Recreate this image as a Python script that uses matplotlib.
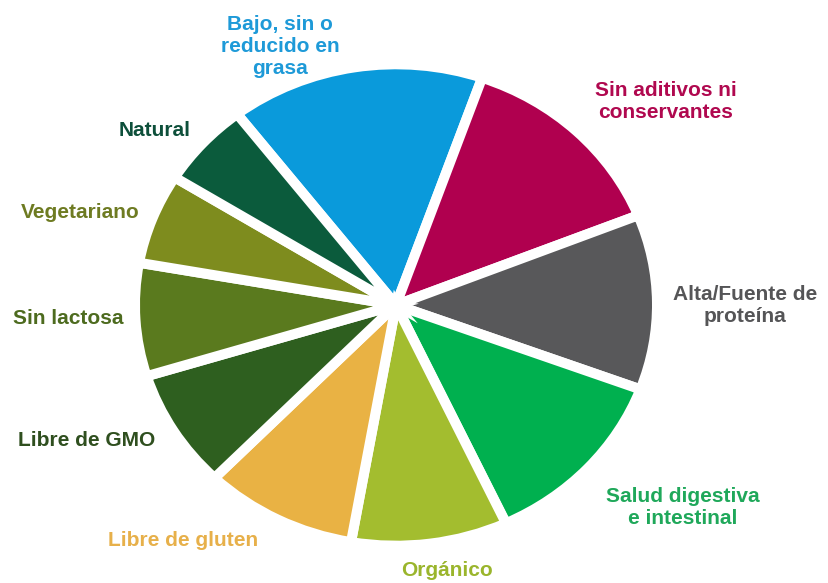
import matplotlib
matplotlib.use('Agg')
import matplotlib.pyplot as plt

# Share of claims (%)
labels = ['Bajo, sin o\nreducido en\ngrasa', 'Sin aditivos ni\nconservantes', 'Alta/Fuente de\nproteína',
          'Salud digestiva\ne intestinal', 'Orgánico', 'Libre de gluten', 'Libre de GMO',
          'Sin lactosa', 'Vegetariano', 'Natural']
shares = [15.8, 13.6, 11.8, 12.4, 9.7, 9.5, 8.0, 7.6, 6.1, 5.7]
colors = ['#0A9ADB', '#B0004F', '#58585A', '#00B04F', '#A3BD2F', '#E9B244',
          '#2E5F1F', '#5A7A1E', '#7E8C1E', '#0B5B3C']
text_colors = ['#1E9AD8', '#B0084F', '#555557', '#1FA85A', '#9AB52C', '#E7B04A',
               '#2F4F1F', '#4D6B1F', '#6E7B22', '#0D4F3A']
# label anchor points in pixels (x from left, y from top)
label_xy = [(280, 47), (666, 101), (745, 306), (683, 507), (447, 570),
            (183, 541), (87, 440), (68, 318), (80, 212), (155, 130)]

W, H = 829, 583
fig = plt.figure(figsize=(W / 100, H / 100), dpi=100)
ax = fig.add_axes([0, 0, 1, 1])

# pie is a bit flatter than wide
rx, ry = 257, 237
squash = rx / ry
cx, cy = 396, 305
gap = 7.2

ax.pie(shares, colors=colors, startangle=127.5, counterclock=False,
       radius=rx + 4, center=(cx, (H - cy) * squash),
       wedgeprops=dict(edgecolor='white', linewidth=gap))
ax.set_aspect('auto')
ax.set_xlim(0, W)
ax.set_ylim(0, H * squash)
ax.axis('off')

for lab, (x, y), c in zip(labels, label_xy, text_colors):
    ax.text(x / W, 1 - y / H, lab, transform=ax.transAxes, ha='center', va='center',
            fontsize=15, fontweight='bold', color=c, family='Liberation Sans',
            linespacing=1.2)

fig.savefig('out.png', dpi=100, facecolor='white')
